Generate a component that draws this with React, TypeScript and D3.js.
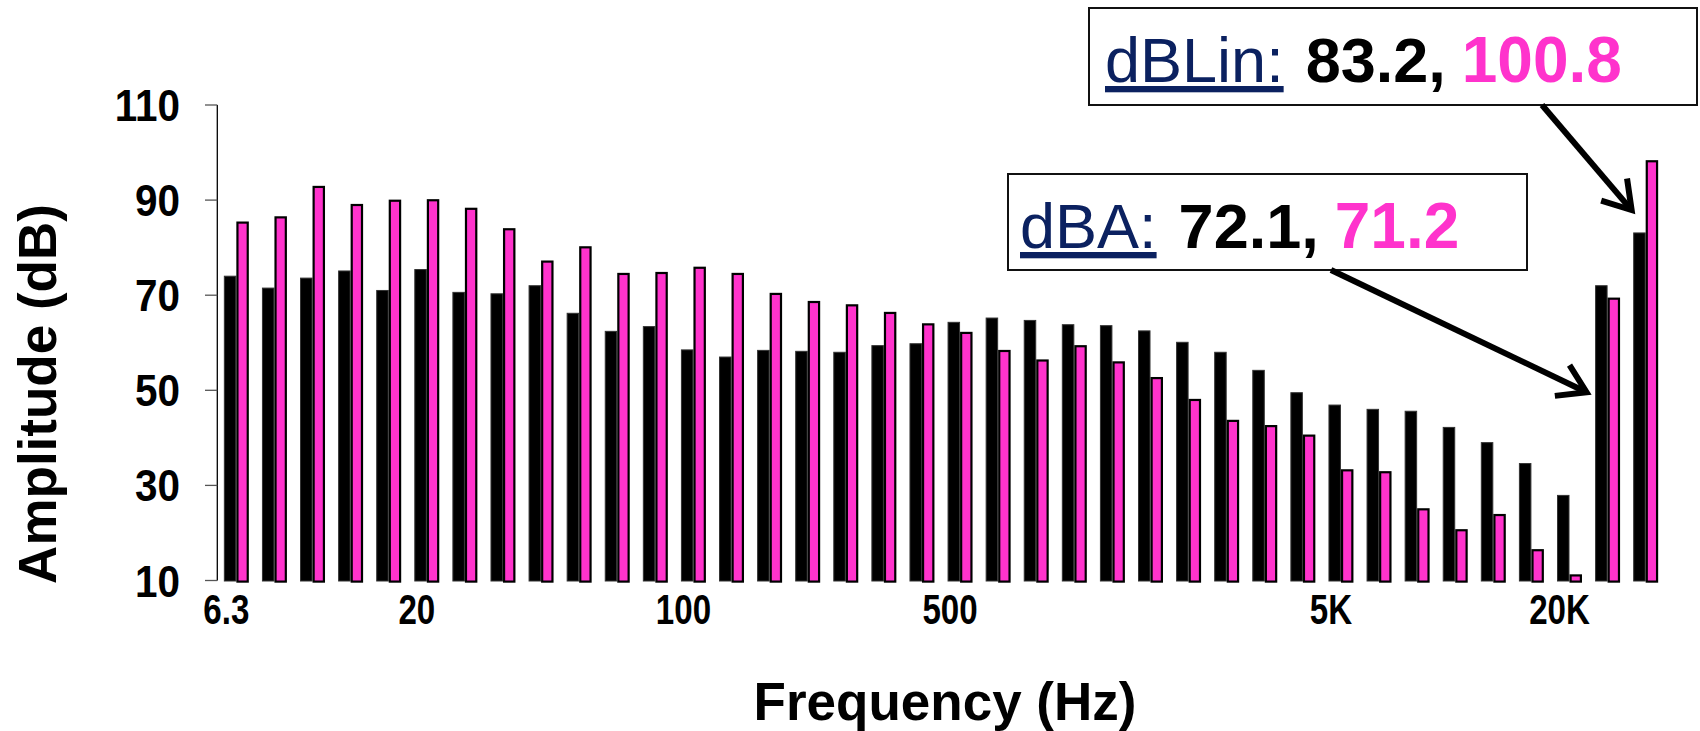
import * as d3 from 'd3';

// 1/3-octave bands plus the two overall levels
const bands = [
  '6.3', '8', '10', '12.5', '16', '20', '25', '31.5', '40', '50', '63', '80',
  '100', '125', '160', '200', '250', '315', '400', '500', '630', '800', '1K',
  '1.25K', '1.6K', '2K', '2.5K', '3.15K', '4K', '5K', '6.3K', '8K', '10K',
  '12.5K', '16K', '20K', 'dBA', 'dBLin',
];
const blackValues = [
  74.1, 71.6, 73.7, 75.2, 71.1, 75.5, 70.7, 70.4, 72.1, 66.3, 62.5, 63.5,
  58.6, 57.1, 58.5, 58.3, 58.1, 59.5, 59.9, 64.4, 65.3, 64.8, 63.9, 63.7,
  62.6, 60.2, 58.1, 54.3, 49.6, 47.0, 46.1, 45.7, 42.3, 39.1, 34.7, 28.0,
  72.1, 83.2,
];
const pinkValues = [
  85.5, 86.6, 93.0, 89.2, 90.1, 90.2, 88.4, 84.1, 77.3, 80.3, 74.7, 74.9,
  76.0, 74.7, 70.5, 68.8, 68.1, 66.5, 64.1, 62.3, 58.5, 56.5, 59.5, 56.1,
  52.8, 48.2, 43.8, 42.7, 40.7, 33.4, 33.0, 25.2, 20.8, 24.0, 16.6, 11.3,
  69.5, 98.4,
];
const xTickLabels = ['6.3', '20', '100', '500', '5K', '20K'];
const yTicks = [10, 30, 50, 70, 90, 110];

const noteNames = ['dBLin:', 'dBA:'];
const noteBlack = ['83.2,', '72.1,'];
const notePink = ['100.8', '71.2'];

const PINK = '#FF33CC';
const NAVY = '#0B2160';
const FONT = '"Liberation Sans", Arial, sans-serif';

const W = 1700;
const H = 731;

export default function App() {
  const step = 38.09;
  const x = d3.scaleBand<string>()
    .domain(bands)
    .range([217.3, 217.3 + bands.length * step])
    .padding(0);
  const y = d3.scaleLinear().domain([10, 110]).range([580.5, 105]);
  const bw = x.bandwidth() * 0.328;
  const sw = 2.2;

  // annotation boxes (layout only)
  const boxes = [
    { x: 1089, y: 8, w: 608, h: 97, tx: 16, from: [1542, 105], to: [x('dBLin')! + 5, y(87.9)] },
    { x: 1008, y: 174, w: 519, h: 96, tx: 12, from: [1331, 270], to: [x('dBA')! - 2, y(49.6)] },
  ];

  return (
    <svg width={W} height={H} style={{ position: 'absolute', left: 0, top: 0, background: '#fff' }}
      fontFamily={FONT}>
      <defs>
        <marker id="arrowHead" markerUnits="userSpaceOnUse" viewBox="-40 -25 50 50"
          markerWidth={50} markerHeight={50} refX={0} refY={0} orient="auto">
          <path d="M-27,-17 L0,0 L-27,17" fill="none" stroke="#000" strokeWidth={6} strokeLinejoin="miter" />
        </marker>
      </defs>

      {/* bars */}
      {bands.map((b, i) => {
        const cx = x(b)! + x.bandwidth() / 2;
        return (
          <g key={b}>
            <rect x={cx - bw + 0.5} y={y(blackValues[i]) + 0.5} width={bw - 1}
              height={y(10) - y(blackValues[i])} fill="#000" stroke="#333" strokeWidth={1} />
            <rect x={cx + sw / 2} y={y(pinkValues[i]) + sw / 2} width={bw - sw}
              height={Math.max(0, y(10) - y(pinkValues[i]))} fill={PINK} stroke="#000" strokeWidth={sw} />
          </g>
        );
      })}

      {/* y axis */}
      <line x1={217.3} x2={217.3} y1={y(110)} y2={y(10)} stroke="#000" strokeWidth={1.3} />
      {yTicks.map(t => (
        <g key={t}>
          <line x1={205} x2={217.3} y1={y(t)} y2={y(t)} stroke="#555" strokeWidth={1.3} />
          <text transform={`translate(180,${y(t) + 16}) scale(0.92,1)`} textAnchor="end"
            fontSize={44} fontWeight="bold">{t}</text>
        </g>
      ))}

      {/* x tick labels, narrow */}
      {xTickLabels.map(l => (
        <text key={l} transform={`translate(${x(l)! + x.bandwidth() / 2 - 10},624) scale(0.77,1)`}
          textAnchor="middle" fontSize={43} fontWeight="bold">{l}</text>
      ))}

      {/* axis titles */}
      <text transform="translate(56,394) rotate(-90)" textAnchor="middle" fontSize={53} fontWeight="bold">
        Amplitude (dB)
      </text>
      <text x={945} y={720} textAnchor="middle" fontSize={53} fontWeight="bold">Frequency (Hz)</text>

      {/* annotations */}
      {boxes.map((bx, i) => (
        <g key={noteNames[i]}>
          <rect x={bx.x} y={bx.y} width={bx.w} height={bx.h} fill="#fff" stroke="#111" strokeWidth={2} />
          <text x={bx.x + bx.tx} y={bx.y + 74} fontSize={63}>
            <tspan fill={NAVY} textDecoration="underline">{noteNames[i]}</tspan>
            <tspan fill="#000" fontWeight="bold" dx={22}>{noteBlack[i]}</tspan>
            <tspan fill={PINK} fontWeight="bold" dx={16} fontSize={64}>{notePink[i]}</tspan>
          </text>
          <line x1={bx.from[0]} y1={bx.from[1]} x2={bx.to[0]} y2={bx.to[1]}
            stroke="#000" strokeWidth={6} markerEnd="url(#arrowHead)" />
        </g>
      ))}
    </svg>
  );
}
